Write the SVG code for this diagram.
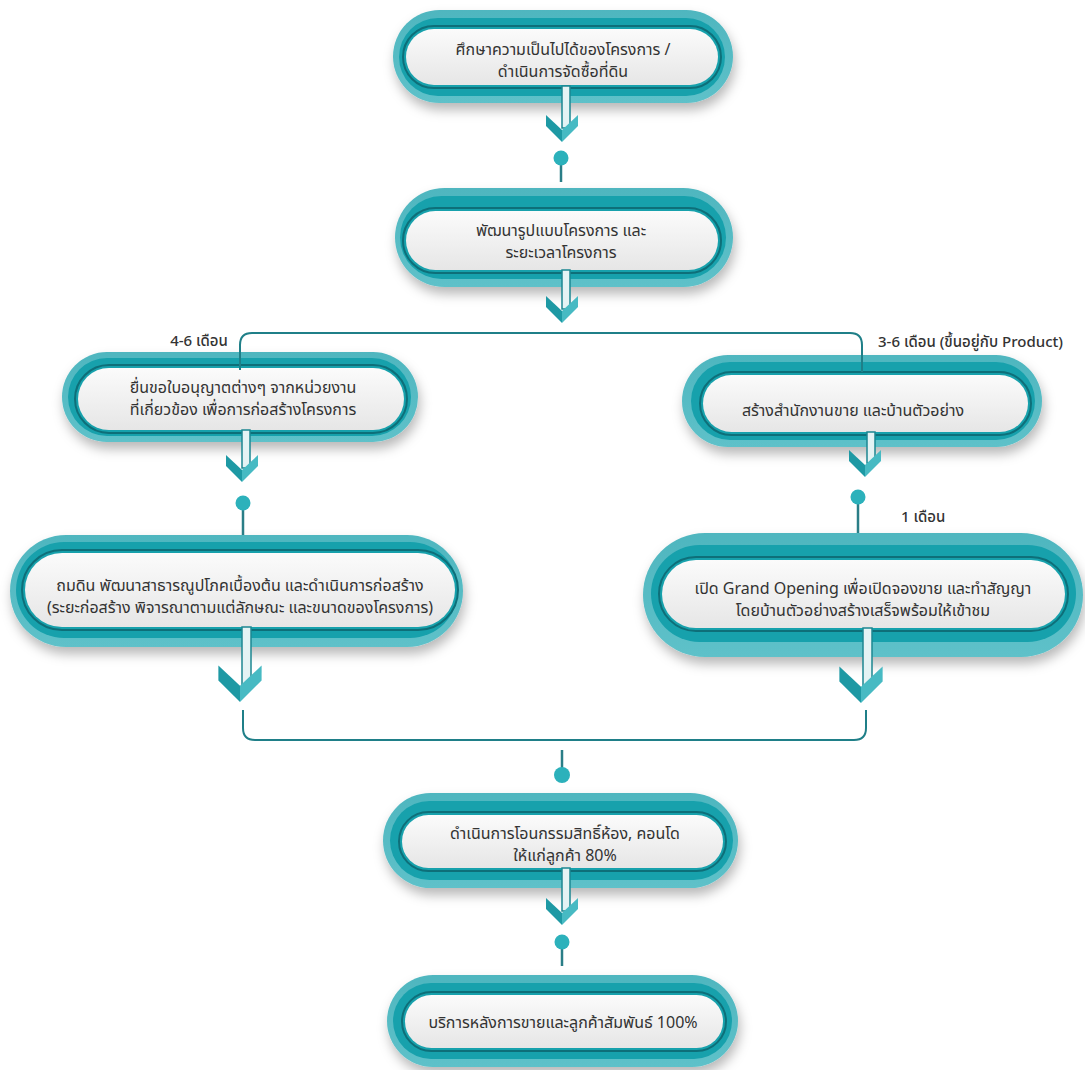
<svg xmlns="http://www.w3.org/2000/svg" xmlns:xlink="http://www.w3.org/1999/xlink" width="1085" height="1070" viewBox="0 0 1085 1070">
<style>
.outer{fill:url(#gOuter);filter:url(#sh)}
.mid{fill:#17a1ac}
.ring{fill:none;stroke:#0e6f79;stroke-width:2}
.inner{fill:url(#gInner)}
.t{font-family:"Noto Sans Thai","Noto Sans","Liberation Sans",sans-serif;font-size:16px;fill:#333;text-anchor:middle}
.lbl{font-family:"Noto Sans Thai","Noto Sans","Liberation Sans",sans-serif;font-size:15px;fill:#333;font-weight:500}
.line{fill:none;stroke:#1f7f88;stroke-width:2}
.stem{fill:#e4f3f4;stroke:#1d8791;stroke-width:1.5}
.cl{fill:#1e99a4}
.cr{fill:#47bac3}
.pin{fill:#2cb1bb}
.pinstem{stroke:#2a7e87;stroke-width:2.5}
</style>
<defs>
<linearGradient id="gOuter" x1="0" y1="0" x2="0" y2="1">
<stop offset="0" stop-color="#4fb6bf"/>
<stop offset="1" stop-color="#5ec1c9"/>
</linearGradient>
<linearGradient id="gInner" x1="0" y1="0" x2="0" y2="1">
<stop offset="0" stop-color="#fbfbfb"/>
<stop offset="1" stop-color="#e6e6e6"/>
</linearGradient>
<filter id="sh" x="-10%" y="-20%" width="120%" height="150%">
<feDropShadow dx="2" dy="7" stdDeviation="6" flood-color="#000" flood-opacity="0.28"/>
</filter>
<g id="chev">
<polygon class="cl" points="-16,-27 0,-12 0,0 -16,-16"/>
<polygon class="cr" points="0,-12 16,-27 16,-16 0,0"/>
</g>
</defs>
<rect width="1085" height="1070" fill="#fff"/>

<g id="node1">
<rect class="outer" x="393" y="10" width="340" height="93" rx="46.5"/>
<rect class="mid" x="399" y="18" width="326" height="78" rx="39"/>
<rect class="ring" x="403" y="26" width="318" height="62" rx="31"/>
<rect class="inner" x="406" y="29" width="312" height="56" rx="28"/>
<text class="t" x="563" y="55">ศึกษาความเป็นไปได้ของโครงการ /</text>
<text class="t" x="563" y="77">ดำเนินการจัดซื้อที่ดิน</text>
</g>

<g id="node2">
<rect class="outer" x="395" y="188" width="338" height="99" rx="49.5"/>
<rect class="mid" x="400" y="196" width="326" height="83" rx="41.5"/>
<rect class="ring" x="403" y="208" width="318" height="65" rx="32.5"/>
<rect class="inner" x="406" y="211" width="312" height="59" rx="29.5"/>
<text class="t" x="561" y="236">พัฒนารูปแบบโครงการ และ</text>
<text class="t" x="561" y="258">ระยะเวลาโครงการ</text>
</g>

<g id="node3">
<rect class="outer" x="62" y="352" width="356" height="90" rx="45"/>
<rect class="mid" x="68" y="358" width="343" height="78" rx="39"/>
<rect class="ring" x="75" y="365" width="332" height="68" rx="34"/>
<rect class="inner" x="78" y="368" width="326" height="62" rx="31"/>
<text class="t" x="243" y="393">ยื่นขอใบอนุญาตต่างๆ จากหน่วยงาน</text>
<text class="t" x="243" y="415">ที่เกี่ยวข้อง เพื่อการก่อสร้างโครงการ</text>
</g>

<g id="node4">
<rect class="outer" x="682" y="355" width="360" height="92" rx="46"/>
<rect class="mid" x="691" y="362" width="344" height="78" rx="39"/>
<rect class="ring" x="700" y="372" width="331" height="63" rx="31.5"/>
<rect class="inner" x="703" y="375" width="325" height="57" rx="28.5"/>
<text class="t" x="853" y="416">สร้างสำนักงานขาย และบ้านตัวอย่าง</text>
</g>

<g id="node5">
<rect class="outer" x="10" y="535" width="453" height="112" rx="56"/>
<rect class="mid" x="16" y="542" width="442" height="96" rx="48"/>
<rect class="ring" x="22" y="550" width="436" height="80" rx="40"/>
<rect class="inner" x="25" y="553" width="430" height="74" rx="37"/>
<text class="t" x="240" y="591">ถมดิน พัฒนาสาธารณูปโภคเบื้องต้น และดำเนินการก่อสร้าง</text>
<text class="t" x="240" y="613">(ระยะก่อสร้าง พิจารณาตามแต่ลักษณะ และขนาดของโครงการ)</text>
</g>

<g id="node6">
<rect class="outer" x="643" y="533" width="440" height="124" rx="62"/>
<rect class="mid" x="651" y="545" width="425" height="97" rx="48.5"/>
<rect class="ring" x="659" y="557" width="409" height="74" rx="37"/>
<rect class="inner" x="662" y="560" width="403" height="68" rx="34"/>
<text class="t" x="863" y="594">เปิด Grand Opening เพื่อเปิดจองขาย และทำสัญญา</text>
<text class="t" x="863" y="616">โดยบ้านตัวอย่างสร้างเสร็จพร้อมให้เข้าชม</text>
</g>

<g id="node7">
<rect class="outer" x="383" y="793" width="355" height="95" rx="47.5"/>
<rect class="mid" x="390" y="801" width="343" height="79" rx="39.5"/>
<rect class="ring" x="399" y="812" width="327" height="59" rx="29.5"/>
<rect class="inner" x="402" y="815" width="321" height="53" rx="26.5"/>
<text class="t" x="565" y="839">ดำเนินการโอนกรรมสิทธิ์ห้อง, คอนโด</text>
<text class="t" x="565" y="861">ให้แก่ลูกค้า 80%</text>
</g>

<g id="node8">
<rect class="outer" x="387" y="975" width="351" height="92" rx="46"/>
<rect class="mid" x="393" y="983" width="339" height="76" rx="38"/>
<rect class="ring" x="402" y="992" width="324" height="59" rx="29.5"/>
<rect class="inner" x="405" y="995" width="318" height="53" rx="26.5"/>
<text class="t" x="563" y="1028">บริการหลังการขายและลูกค้าสัมพันธ์ 100%</text>
</g>

<g id="connectors">
<path class="line" d="M240,370 V345 Q240,333 252,333 H850 Q862,333 862,345 V372"/>
<path class="line" d="M243,710 V728 Q243,740 255,740 H854 Q866,740 866,728 V710"/>

<g transform="translate(562,142)">
<rect class="stem" x="0" y="-56" width="8" height="42"/>
<use xlink:href="#chev"/>
</g>
<g transform="translate(562,323)">
<rect class="stem" x="0" y="-53" width="8" height="39"/>
<use xlink:href="#chev"/>
</g>
<g transform="translate(242,482)">
<rect class="stem" x="0" y="-52" width="8" height="38"/>
<use xlink:href="#chev"/>
</g>
<g transform="translate(865,477)">
<rect class="stem" x="2" y="-45" width="8" height="31"/>
<use xlink:href="#chev"/>
</g>
<g transform="translate(240,702)">
<rect class="stem" x="2" y="-75" width="9" height="58"/>
<use xlink:href="#chev" transform="scale(1.35)"/>
</g>
<g transform="translate(861,703)">
<rect class="stem" x="2" y="-75" width="9" height="58"/>
<use xlink:href="#chev" transform="scale(1.35)"/>
</g>
<g transform="translate(562,925)">
<rect class="stem" x="0" y="-57" width="8" height="43"/>
<use xlink:href="#chev"/>
</g>

<line class="pinstem" x1="561" y1="158" x2="561" y2="182"/>
<circle class="pin" cx="561" cy="158" r="7.5"/>
<line class="pinstem" x1="243" y1="503" x2="243" y2="535"/>
<circle class="pin" cx="243" cy="503" r="7.5"/>
<line class="pinstem" x1="858" y1="497" x2="858" y2="533"/>
<circle class="pin" cx="858" cy="497" r="7.5"/>
<line class="pinstem" x1="562" y1="750" x2="562" y2="775"/>
<circle class="pin" cx="562" cy="775" r="8"/>
<line class="pinstem" x1="562" y1="942" x2="562" y2="966"/>
<circle class="pin" cx="562" cy="942" r="7.5"/>
</g>

<text class="lbl" x="199" y="346" text-anchor="middle">4-6 เดือน</text>
<text class="lbl" x="878" y="347">3-6 เดือน (ขึ้นอยู่กับ Product)</text>
<text class="lbl" x="901" y="522">1 เดือน</text>
</svg>
